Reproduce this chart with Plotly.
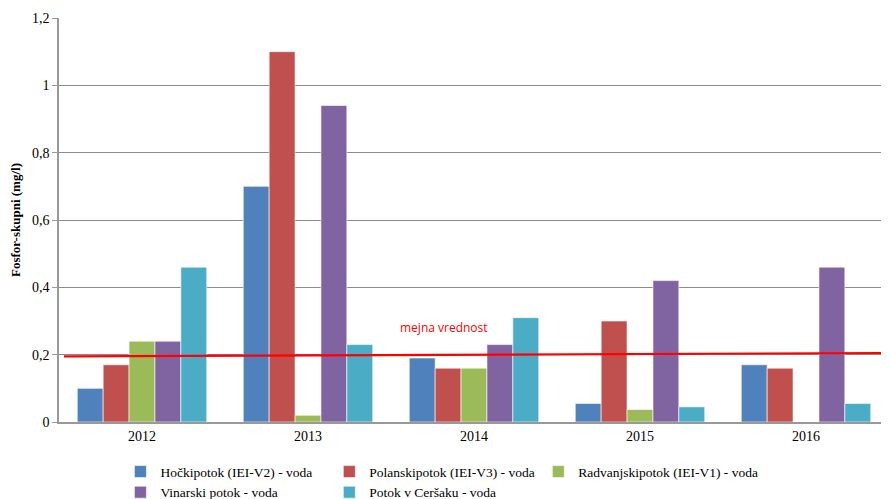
import plotly.graph_objects as go

years = ["2012", "2013", "2014", "2015", "2016"]
series_names = [
    "Hočkipotok (IEI-V2) - voda",
    "Polanskipotok (IEI-V3) - voda",
    "Radvanjskipotok (IEI-V1) - voda",
    "Vinarski potok - voda",
    "Potok v Ceršaku - voda",
]
hocki = [0.10, 0.70, 0.19, 0.055, 0.17]
polanski = [0.17, 1.10, 0.16, 0.30, 0.16]
radvanjski = [0.24, 0.02, 0.16, 0.037, None]
vinarski = [0.24, 0.94, 0.23, 0.42, 0.46]
cersak = [0.46, 0.23, 0.31, 0.045, 0.055]
colors = ["#4F81BD", "#C0504D", "#9BBB59", "#8064A2", "#4BACC6"]
legend_ids = ["legend", "legend2", "legend3", "legend", "legend2"]

limit_x = [0.006, 1.0]
limit_y = [0.195, 0.205]
limit_label = "mejna vrednost"

fig = go.Figure()
for name, vals, c, lg in zip(series_names, [hocki, polanski, radvanjski, vinarski, cersak], colors, legend_ids):
    fig.add_trace(go.Bar(x=years, y=vals, name=name, legend=lg,
                         marker=dict(color=c, line=dict(color="white", width=0.6))))

fig.add_trace(go.Scatter(x=limit_x, y=limit_y, mode="lines", xaxis="x2", yaxis="y",
                         line=dict(color="#FF0000", width=2.2), showlegend=False, hoverinfo="skip"))

fig.add_annotation(x=0.464, y=0.282, xref="paper", yref="y", text=limit_label, showarrow=False,
                   font=dict(family="Open Sans, Arial", size=12, color="#FF0000"))

leg_common = dict(orientation="v", xanchor="left", y=-0.085, yanchor="top",
                  font=dict(size=13.5), itemwidth=30, tracegroupgap=0, traceorder="normal",
                  bgcolor="rgba(0,0,0,0)")

fig.update_layout(
    width=889, height=499,
    margin=dict(l=51, r=8, t=10, b=85, autoexpand=False),
    paper_bgcolor="white", plot_bgcolor="white",
    separators=", ",
    barmode="group", bargap=0.22, bargroupgap=0,
    font=dict(family="Liberation Serif, Times New Roman, serif", size=14, color="#000000"),
    xaxis=dict(showline=True, linecolor="#999999", linewidth=1.5, ticks="",
               showgrid=False, tickfont=dict(size=14)),
    xaxis2=dict(overlaying="x", range=[0, 1], visible=False),
    yaxis=dict(range=[0, 1.2], dtick=0.2, showgrid=True, gridcolor="#8c8c8c", gridwidth=1,
               showline=True, linecolor="#999999", linewidth=1.5, ticks="outside", ticklen=5,
               tickcolor="#999999", zeroline=False, tickfont=dict(size=14),
               title=dict(text="<b>Fosfor-skupni (mg/l)</b>", font=dict(size=13), standoff=12)),
    legend=dict(x=0.074, **leg_common),
    legend2=dict(x=0.3257, **leg_common),
    legend3=dict(x=0.5775, **leg_common),
)

fig.write_html("out.html")
